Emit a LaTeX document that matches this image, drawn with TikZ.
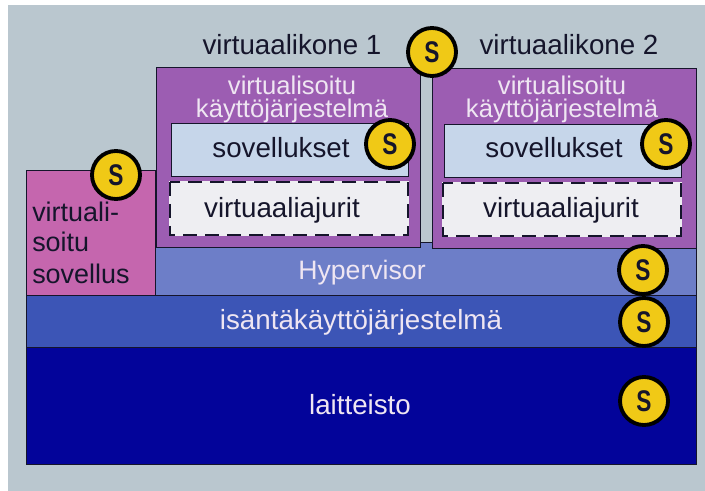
\documentclass[tikz,border=0pt]{standalone}
\usepackage{fontspec}
\setmainfont{Liberation Sans}
\definecolor{bgc}{HTML}{BAC7CF}
\definecolor{vmc}{HTML}{9C5DB2}
\definecolor{sovc}{HTML}{C6D6EA}
\definecolor{ajc}{HTML}{EEEEF2}
\definecolor{pinkc}{HTML}{C566AE}
\definecolor{hypc}{HTML}{6D7EC8}
\definecolor{hostc}{HTML}{3C55B6}
\definecolor{hwc}{HTML}{03049A}
\definecolor{yelc}{HTML}{F0C916}
\definecolor{inkc}{HTML}{15152B}
\definecolor{lightc}{HTML}{EFE6F2}
\newcommand{\esS}{\scalebox{0.85}[1.12]{S}}
\tikzset{
  layer/.style={draw=inkc,line width=0.6pt},
  drvfill/.style={fill=ajc},
  drvbox/.style={draw=inkc,line width=1.6pt,dash pattern=on 10.5pt off 6pt},
  lab/.style={anchor=base,inner sep=0pt,text=inkc,font=\fontsize{20.8}{24}\selectfont},
  lablight/.style={lab,text=lightc},
  osl/.style={lablight,font=\fontsize{19.2}{23}\selectfont},
  leftl/.style={lab,anchor=base west,font=\fontsize{20.2}{24}\selectfont,text=inkc},
  badge/.style={circle,draw=black,line width=2.9pt,fill=yelc,minimum size=36pt,inner sep=0pt,
    font=\fontsize{20}{24}\bfseries\selectfont,text=inkc},
}
\begin{document}
\begin{tikzpicture}[x=0.75pt,y=-0.75pt]
\useasboundingbox (0,0) rectangle (705,491);
\fill[white] (0,0) rectangle (705,491);
\fill[bgc] (8,5) rectangle (705,491);
% layers
\draw[layer,fill=hwc] (26,347) rectangle (696,464);
\draw[layer,fill=hostc] (26,295) rectangle (696,347);
\draw[layer,fill=hypc] (155,242) rectangle (696,295);
\draw[layer,fill=pinkc] (26,170) rectangle (155,295);
% virtual machines
\draw[layer,fill=vmc] (156,67) rectangle (420,247);
\draw[layer,fill=vmc] (432,68) rectangle (696,248);
\draw[layer,fill=sovc] (171,123) rectangle (408,176);
\draw[layer,fill=sovc] (444,124) rectangle (681,177);
\fill[drvfill] (169,181) rectangle (409,236);
\fill[drvfill] (442,182) rectangle (682,237);
\draw[drvbox] (170,182) rectangle (408,235);
\draw[drvbox] (443,183) rectangle (681,236);
% labels
\node[lab] (vm1) at (292,55) {virtuaalikone 1};
\node[lab] (vm2) at (569,55) {virtuaalikone 2};
\node[osl] (os1a) at (292,95) {virtualisoitu};
\node[osl] (os1b) at (292,118) {käyttöjärjestelmä};
\node[osl] (os2a) at (562,95) {virtualisoitu};
\node[osl] (os2b) at (562,118) {käyttöjärjestelmä};
\node[lab] (sov1) at (281,158) {sovellukset};
\node[lab] (sov2) at (554,158) {sovellukset};
\node[lab] (aj1) at (282,218) {virtuaaliajurit};
\node[lab] (aj2) at (561,218) {virtuaaliajurit};
\node[leftl] (ap1) at (32,222) {virtuali-};
\node[leftl] (ap2) at (32,252) {soitu};
\node[leftl] (ap3) at (32,283) {sovellus};
\node[lablight,font=\fontsize{20}{24}\selectfont] (hyp) at (362,279) {Hypervisor};
\node[lablight] (host) at (361,329) {isäntäkäyttöjärjestelmä};
\node[lablight] (hw) at (360,414) {laitteisto};
% badges
\node[badge] (s1) at (432,52) {\esS};
\node[badge] (s2) at (116,175) {\esS};
\node[badge] (s3) at (390,144) {\esS};
\node[badge] (s4) at (666,144) {\esS};
\node[badge] (s5) at (643,270) {\esS};
\node[badge] (s6) at (644,322) {\esS};
\node[badge] (s7) at (644,401) {\esS};
\end{tikzpicture}
\end{document}
